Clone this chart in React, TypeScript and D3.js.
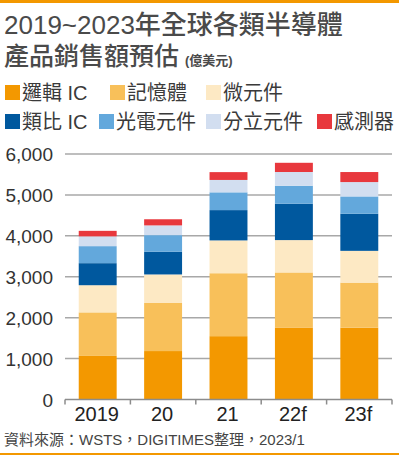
import React, { useEffect, useRef } from "react";
import * as d3 from "d3";

// 億美元
const years = ["2019", "20", "21", "22f", "23f"];
const seriesNames = ["邏輯 IC", "記憶體", "微元件", "類比 IC", "光電元件", "分立元件", "感測器"];
const seriesColors = ["#f39800", "#f8c05a", "#fde9c4", "#00589e", "#63a8dc", "#d2def0", "#e8383d"];
const logicIC = [1065, 1184, 1548, 1760, 1755];
const memory = [1064, 1175, 1538, 1345, 1102];
const micro = [664, 697, 802, 791, 776];
const analogIC = [539, 557, 741, 890, 906];
const opto = [416, 404, 434, 438, 424];
const discrete = [239, 238, 303, 336, 351];
const sensor = [135, 150, 191, 225, 245];
const yTicks = [0, 1000, 2000, 3000, 4000, 5000, 6000];

const W = 399, H = 459;
const FONT = "'Liberation Sans', 'Noto Sans CJK TC', sans-serif";

export default function App() {
  const ref = useRef<SVGSVGElement>(null);

  useEffect(() => {
    document.body.style.margin = "0";
    const svg = d3.select(ref.current);
    svg.selectAll("*").remove();

    const allSeries = [logicIC, memory, micro, analogIC, opto, discrete, sensor];
    const rows = years.map((y, i) => {
      const r: any = { year: y };
      seriesNames.forEach((n, k) => (r[n] = allSeries[k][i]));
      return r;
    });
    const stacked = d3.stack().keys(seriesNames)(rows);

    const x = d3.scaleBand().domain(years).range([65, 392]).padding(0);
    const y = d3.scaleLinear().domain([0, 6000]).range([399.5, 154]);
    const barW = x.bandwidth() * 0.58;

    // top / bottom orange rules
    svg.append("rect").attr("x", 0).attr("y", 0).attr("width", W).attr("height", 3).attr("fill", "#f39800");
    svg.append("rect").attr("x", 0).attr("y", 453).attr("width", W).attr("height", 2).attr("fill", "#f39800");

    // title
    svg.append("text").attr("x", 4).attr("y", 34).attr("font-family", FONT).attr("font-size", 26)
      .attr("font-weight", 500).attr("fill", "#4a4a4a").text("2019~2023年全球各類半導體");
    const t2 = svg.append("text").attr("x", 4).attr("y", 65).attr("font-family", FONT).attr("fill", "#4a4a4a");
    t2.append("tspan").attr("font-size", 25).attr("font-weight", 500).text("產品銷售額預估");
    t2.append("tspan").attr("dx", 6).attr("font-size", 13).attr("font-weight", 700).text("(億美元)");

    // legend
    const legendPos = [[5, 85], [110, 85], [206, 85], [5, 114], [99, 114], [206, 114], [317, 114]];
    seriesNames.forEach((n, k) => {
      const [lx, ly] = legendPos[k];
      svg.append("rect").attr("x", lx).attr("y", ly).attr("width", 15).attr("height", 15).attr("fill", seriesColors[k]);
      svg.append("text").attr("x", lx + 17).attr("y", ly + 15).attr("font-family", FONT).attr("font-size", 20)
        .attr("fill", "#3a3a3a").text(n);
    });

    // grid
    svg.append("g").selectAll("line").data(yTicks.slice(1)).join("line")
      .attr("x1", 65).attr("x2", 392).attr("y1", d => y(d)).attr("y2", d => y(d))
      .attr("stroke", "#a8a8a8").attr("stroke-width", 1.5);

    svg.append("g").selectAll("text").data(yTicks).join("text")
      .attr("x", 53).attr("y", d => y(d) + 7).attr("text-anchor", "end")
      .attr("font-family", FONT).attr("font-size", 19).attr("fill", "#333")
      .text(d => d3.format(",")(d));

    // bars
    svg.append("g").selectAll("g").data(stacked).join("g")
      .attr("fill", (_d, k) => seriesColors[k])
      .selectAll("rect").data(d => d).join("rect")
      .attr("x", (d: any) => x(d.data.year)! + (x.bandwidth() - barW) / 2)
      .attr("width", barW)
      .attr("y", d => y(d[1]))
      .attr("height", d => y(d[0]) - y(d[1]));

    // x axis
    const ax = svg.append("g").attr("transform", "translate(0,399.5)");
    ax.append("line").attr("x1", 65).attr("x2", 392).attr("stroke", "#8c8c8c").attr("stroke-width", 1.5);
    const ticksX = years.map(yr => x(yr)!).concat([392]);
    ax.selectAll("line.t").data(ticksX).join("line").attr("class", "t")
      .attr("x1", d => d).attr("x2", d => d).attr("y1", 0).attr("y2", 5)
      .attr("stroke", "#8c8c8c").attr("stroke-width", 1.5);
    ax.selectAll("text").data(years).join("text")
      .attr("x", d => x(d)! + x.bandwidth() / 2 - 1).attr("y", 21).attr("text-anchor", "middle")
      .attr("font-family", FONT).attr("font-size", 20).attr("fill", "#222").text(d => d);

    // source
    svg.append("text").attr("x", 4).attr("y", 445).attr("font-family", FONT).attr("font-size", 15)
      .attr("fill", "#444").text("資料來源：WSTS，DIGITIMES整理，2023/1");
  }, []);

  return <svg ref={ref} width={W} height={H} style={{ display: "block", background: "#fff" }} />;
}
